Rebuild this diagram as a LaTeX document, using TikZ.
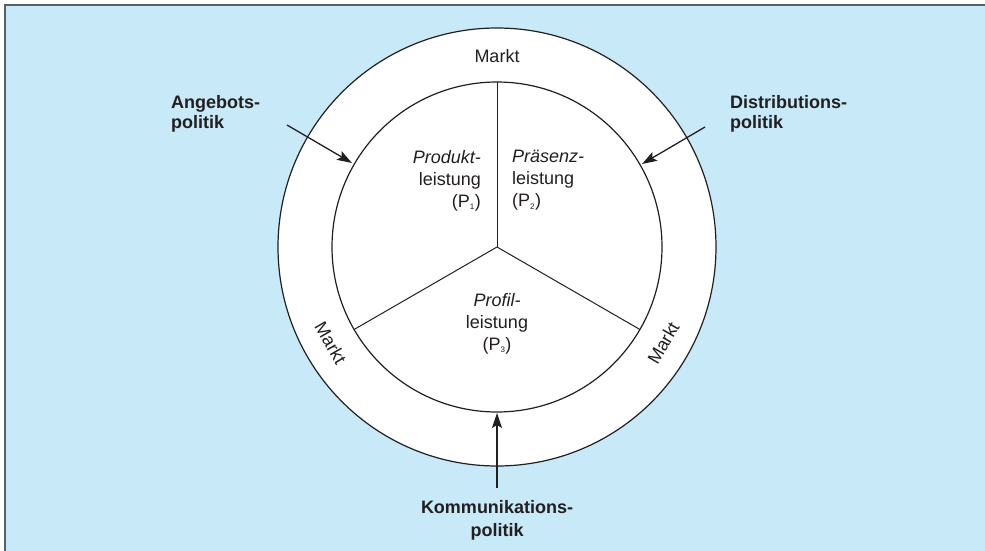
\documentclass[tikz,border=0pt]{standalone}
\usepackage{fontspec}
\setmainfont{Liberation Sans}
\usetikzlibrary{arrows.meta,calc}
\definecolor{bgblue}{RGB}{199,233,248}
\definecolor{framegray}{RGB}{90,95,99}
\definecolor{ink}{RGB}{35,31,32}
\tikzset{
  ring/.style={draw=ink, line width=1.2pt, fill=white},
  divider/.style={draw=ink, line width=1.0pt},
  pfeil/.style={draw=ink, line width=1.3pt, -{Stealth[length=15pt, width=10pt, inset=3pt]}},
  label/.style={font=\fontsize{18}{20}\selectfont\bfseries, text=ink, align=left, inner sep=0pt},
  field/.style={font=\fontsize{18}{22}\selectfont, text=ink, inner sep=0pt},
}
\begin{document}
\begin{tikzpicture}[x=1pt, y=-1pt]
  \useasboundingbox (0,0) rectangle (985,551);
  \fill[white] (0,0) rectangle (985,551);
  \fill[bgblue] (5,5) rectangle (985,551);
  \draw[framegray, line width=2pt] (5,551) -- (5,5) -- (985,5);
  % rings
  \coordinate (c) at (497,247);
  \draw[ring] (c) circle[radius=219];
  \draw[ring] (c) circle[radius=165];
  \coordinate (top) at ($(c)+(0,-165)$);
  \coordinate (dl) at ($(c)+(-142.9,82.5)$);
  \coordinate (dr) at ($(c)+(142.9,82.5)$);
  \draw[divider] (c) -- (top);
  \draw[divider] (c) -- (dl);
  \draw[divider] (c) -- (dr);
  % Markt labels
  \node[field] (mtop) at (497,56) {Markt};
  \node[field, rotate=-60] (mleft) at ($(c)+(-166.3,96)$) {Markt};
  \node[field, rotate=60] (mright) at ($(c)+(166.3,96)$) {Markt};
  % segment texts
  \node[field, align=right, anchor=north east] (p1) at (481,150) {\itshape Produkt-\\leistung\\(P\textsubscript{\fontsize{8}{8}\selectfont 1})};
  \node[field, align=left, anchor=north west] (p2) at (512,150) {\itshape Präsenz-\\leistung\\(P\textsubscript{\fontsize{8}{8}\selectfont 2})};
  \node[field, align=center, anchor=north] (p3) at (497,293) {\itshape Profil-\\leistung\\(P\textsubscript{\fontsize{8}{8}\selectfont 3})};
  % outer labels
  \node[label, anchor=north west] (ang) at (171,95) {Angebots-\\politik};
  \node[label, anchor=north west] (dist) at (730,95) {Distributions-\\politik};
  \node[label, align=center, anchor=north, font=\fontsize{18}{23}\selectfont\bfseries] (komm) at (497,500) {Kommunikations-\\politik};
  % arrows
  \coordinate (a1s) at (287,125);
  \coordinate (a1e) at (352,163);
  \coordinate (a2s) at (705,127);
  \coordinate (a2e) at (642,164);
  \coordinate (a3s) at (497,488);
  \coordinate (a3e) at (497,413);
  \draw[pfeil] (a1s) -- (a1e);
  \draw[pfeil] (a2s) -- (a2e);
  \draw[pfeil] (a3s) -- (a3e);
\end{tikzpicture}
\end{document}
